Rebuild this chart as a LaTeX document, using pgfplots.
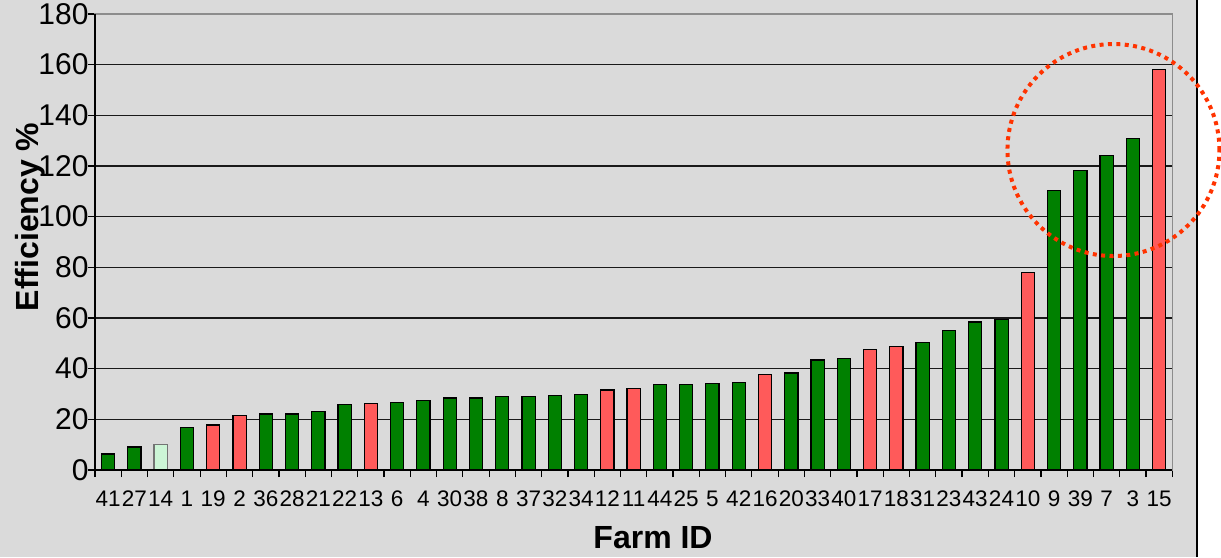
\documentclass[border=0pt]{standalone}
\usepackage{pgfplots}
\pgfplotsset{compat=1.18}
\usepackage{fontspec}
\setmainfont{Liberation Sans}

\definecolor{panel}{RGB}{218,218,218}
\definecolor{farmgreen}{RGB}{0,128,0}
\definecolor{farmred}{RGB}{255,90,90}
\definecolor{farmpale}{RGB}{204,245,214}
\definecolor{ringred}{RGB}{255,51,0}

\begin{document}
\begin{tikzpicture}
% chart background and right-hand margin
\fill[panel] (-47.5pt,-43.5pt) rectangle (551pt,235pt);
\fill[white] (551pt,-43.5pt) rectangle (563pt,235pt);
\draw[black,line width=0.6pt] (551pt,-43.5pt) -- (551pt,235pt);

\begin{axis}[
  at={(0pt,0pt)}, anchor=south west,
  scale only axis,
  width=538.65pt, height=228pt,
  xmin=-0.5, xmax=40.5,
  ymin=0, ymax=180,
  ytick={0,20,...,180},
  xtick={-0.5,0.5,...,40.5},
  xticklabels={41,27,14,1,19,2,36,28,21,22,13,6,4,30,38,8,37,32,34,12,11,44,25,5,42,16,20,33,40,17,18,31,23,43,24,10,9,39,7,3,15,{}},
  xticklabel style={xshift=6.57pt, yshift=-3.5pt, font=\fontsize{11.25}{12}\selectfont},
  yticklabel style={xshift=3.8pt, font=\fontsize{15}{16}\selectfont},
  /pgf/number format/assume math mode=true,
  tick pos=left,
  tick align=outside,
  major tick length=3.5pt,
  tick style={black, line width=0.6pt},
  ymajorgrids,
  grid style={black!90, line width=0.6pt},
  axis line style={black!45, line width=0.6pt},
  xlabel={Farm ID},
  ylabel={Efficiency \%},
  xlabel style={font=\bfseries\fontsize{16}{18}\selectfont, at={(axis description cs:0.518,-0.149)}, anchor=center},
  ylabel style={font=\bfseries\fontsize{16}{18}\selectfont, at={(axis description cs:-0.0605,0.555)}, anchor=center},
  ybar, bar width=6.6pt, bar shift=0pt,
  clip=false,
]
% regular farms
\addplot[fill=farmgreen, draw=black, line width=0.6pt] coordinates {
  (0,6.3) (1,9.1) (3,16.9) (6,22.1) (7,22.1) (8,23.2) (9,25.8)
  (11,26.7) (12,27.4) (13,28.4) (14,28.4) (15,28.9) (16,28.9) (17,29.5)
  (18,29.9) (21,33.6) (22,33.6) (23,34.1) (24,34.6) (26,38.3) (27,43.4)
  (28,44.1) (31,50.3) (32,55.0) (33,58.4) (34,59.5) (36,110.4) (37,118.2)
  (38,124.1) (39,130.8)
};
% highlighted farms
\addplot[fill=farmred, draw=black, line width=0.6pt] coordinates {
  (4,17.8) (5,21.4) (10,26.3) (19,31.6) (20,32.1) (25,37.8)
  (29,47.7) (30,48.7) (35,77.9) (40,158.2)
};
% farm 14
\addplot[fill=farmpale, draw=black!55, line width=0.6pt] coordinates {
  (2,10.1)
};
% frame: grey top and right, black left and bottom
\draw[black!45, line width=0.6pt] (rel axis cs:0,1) -- (rel axis cs:1,1) -- (rel axis cs:1,0);
\draw[black, line width=0.6pt] (rel axis cs:0,1) -- (rel axis cs:0,0) -- (rel axis cs:1,0);
% ring around the top performers
\draw[ringred, line width=2pt, dash pattern=on 2pt off 2.2pt] (axis cs:38.26,126.3) circle[radius=53pt];
\end{axis}

\pgfresetboundingbox
\path[use as bounding box] (-47.5pt,-43.5pt) rectangle (563pt,235pt);
\end{tikzpicture}
\end{document}
